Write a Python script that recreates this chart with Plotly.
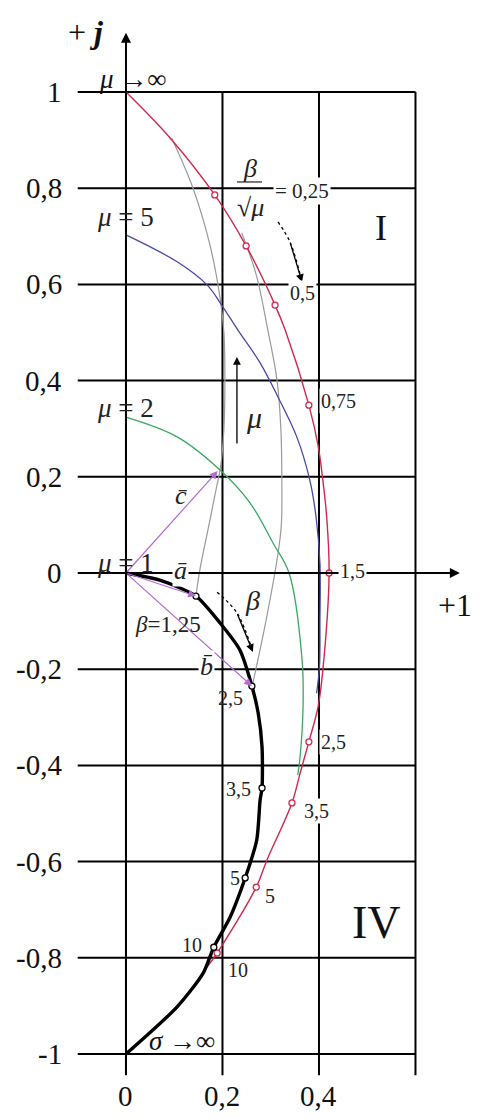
import plotly.graph_objects as go

# ---- data (complex plane: x = Re, y = Im) ----
GRID_X = [0, 0.2, 0.4, 0.6]
GRID_Y = [1, 0.8, 0.6, 0.4, 0.2, 0, -0.2, -0.4, -0.6, -0.8, -1]
Y_TICK_TEXT = ["1", "0,8", "0,6", "0,4", "0,2", "0", "-0,2", "-0,4", "-0,6", "-0,8", "-1"]
X_TICKS = [0, 0.2, 0.4]
X_TICK_TEXT = ["0", "0,2", "0,4"]

# mu -> infinity (red)
red_x = [0, 0.091, 0.184, 0.249, 0.309, 0.33, 0.379, 0.398, 0.408, 0.416, 0.421,
         0.408, 0.398, 0.379, 0.361, 0.344, 0.292, 0.27, 0.189, 0.168]
red_y = [1, 0.905, 0.786, 0.68, 0.557, 0.505, 0.349, 0.266, 0.193, 0.116, 0.0,
         -0.202, -0.279, -0.351, -0.416, -0.478, -0.597, -0.653, -0.79, -0.819]
red_mark_x = [0.184, 0.249, 0.309, 0.379, 0.421, 0.379, 0.344, 0.27, 0.189]
red_mark_y = [0.786, 0.68, 0.557, 0.349, 0.0, -0.351, -0.478, -0.653, -0.79]

# mu = 5 (blue)
blue_x = [0, 0.106, 0.168, 0.201, 0.232, 0.278, 0.315, 0.354, 0.381, 0.394, 0.402, 0.402, 0.401, 0.395]
blue_y = [0.703, 0.647, 0.599, 0.553, 0.505, 0.437, 0.366, 0.283, 0.193, 0.116, 0.02, -0.1, -0.195, -0.25]

# mu = 2 (green)
green_x = [0, 0.106, 0.195, 0.257, 0.305, 0.338, 0.365, 0.367, 0.361, 0.356]
green_y = [0.324, 0.283, 0.214, 0.146, 0.062, 0.0, -0.181, -0.279, -0.38, -0.42]

# mu = 1 (thick black)
black_x = [0, 0.07, 0.145, 0.195, 0.236, 0.261, 0.274, 0.282, 0.282, 0.278, 0.271,
           0.247, 0.216, 0.182, 0.16, 0.106, 0]
black_y = [0, -0.015, -0.048, -0.104, -0.16, -0.235, -0.291, -0.362, -0.447, -0.472, -0.555,
           -0.634, -0.715, -0.778, -0.832, -0.902, -1]
black_mark_x = [0.145, 0.261, 0.282, 0.247, 0.182]
black_mark_y = [-0.048, -0.235, -0.447, -0.634, -0.778]

# beta = const (gray)
gray1_x = [0.095, 0.139, 0.174, 0.195, 0.203, 0.205, 0.203, 0.196, 0.188, 0.17, 0.153, 0.145]
gray1_y = [0.904, 0.8, 0.682, 0.572, 0.5, 0.4, 0.3, 0.22, 0.18, 0.09, 0.006, -0.048]
gray2_x = [0.24, 0.27, 0.294, 0.313, 0.321, 0.323, 0.322, 0.315, 0.29, 0.263]
gray2_y = [0.707, 0.62, 0.505, 0.401, 0.3, 0.2, 0.1, 0.04, -0.1, -0.229]

# vectors a, b, c from the origin
vec_x = [0.145, 0.261, 0.19]
vec_y = [-0.048, -0.235, 0.212]

# dotted curved arrows
beta_arrow_x = [0.189, 0.23, 0.263]
beta_arrow_y = [-0.04, -0.083, -0.164]
ratio_arrow_x = [0.315, 0.34, 0.365]
ratio_arrow_y = [0.73, 0.688, 0.605]

RED = "#d0284e"
BLUE = "#4848a8"
GREEN = "#3aa862"
GRAY = "#9a9a9a"
PURPLE = "#b46ad2"
SERIF = "Liberation Serif, Times New Roman, serif"

fig = go.Figure()

# grid
for gx in GRID_X:
    fig.add_shape(type="line", x0=gx, x1=gx, y0=-1.044, y1=1, xref="x", yref="y",
                  line=dict(color="black", width=2), layer="below")
for gy in GRID_Y:
    fig.add_shape(type="line", x0=-0.1, x1=0.6, y0=gy, y1=gy, xref="x", yref="y",
                  line=dict(color="black", width=2), layer="below")

# curves
fig.add_trace(go.Scatter(x=gray1_x, y=gray1_y, mode="lines", line=dict(color=GRAY, width=1.2, shape="spline")))
fig.add_trace(go.Scatter(x=gray2_x, y=gray2_y, mode="lines", line=dict(color=GRAY, width=1.2, shape="spline")))
fig.add_trace(go.Scatter(x=green_x, y=green_y, mode="lines", line=dict(color=GREEN, width=1.3, shape="spline")))
fig.add_trace(go.Scatter(x=blue_x, y=blue_y, mode="lines", line=dict(color=BLUE, width=1.3, shape="spline")))
fig.add_trace(go.Scatter(x=red_x, y=red_y, mode="lines", line=dict(color=RED, width=1.4, shape="spline")))
fig.add_trace(go.Scatter(x=black_x, y=black_y, mode="lines",
                         line=dict(color="black", width=3.4, shape="spline", smoothing=0.7)))
fig.add_trace(go.Scatter(x=beta_arrow_x, y=beta_arrow_y, mode="lines",
                         line=dict(color="black", width=1.3, dash="dot", shape="spline")))
fig.add_trace(go.Scatter(x=ratio_arrow_x, y=ratio_arrow_y, mode="lines",
                         line=dict(color="black", width=1.3, dash="dot", shape="spline")))
fig.add_trace(go.Scatter(x=red_mark_x, y=red_mark_y, mode="markers",
                         marker=dict(size=6, color="white", line=dict(color=RED, width=1.3))))
fig.add_trace(go.Scatter(x=black_mark_x, y=black_mark_y, mode="markers",
                         marker=dict(size=6, color="white", line=dict(color="black", width=1.3))))

anns = []


def arrow(x, y, ax, ay, color="black", width=2, head=2, size=1):
    anns.append(dict(x=x, y=y, ax=ax, ay=ay, xref="x", yref="y", axref="x", ayref="y",
                     text="", showarrow=True, arrowhead=head, arrowsize=size,
                     arrowwidth=width, arrowcolor=color))


# axes with arrows
arrow(0, 1.123, 0, -1.044)
arrow(0.692, 0, -0.1, 0)
# vectors
for vx, vy in zip(vec_x, vec_y):
    arrow(vx, vy, 0, 0, color=PURPLE, width=1.2, head=2, size=1.3)
# mu arrow
arrow(0.23, 0.449, 0.23, 0.266, width=1.3, head=2, size=1.2)
# dotted arrow heads
arrow(beta_arrow_x[-1], beta_arrow_y[-1], beta_arrow_x[-2], beta_arrow_y[-2], width=1.3, head=2, size=1.2)
arrow(ratio_arrow_x[-1], ratio_arrow_y[-1], ratio_arrow_x[-2], ratio_arrow_y[-2], width=1.3, head=2, size=1.2)


def label(x, y, text, size=20, color="#222", xanchor="center", bg=None):
    d = dict(x=x, y=y, xref="x", yref="y", text=text, showarrow=False, xanchor=xanchor,
             yanchor="middle", font=dict(family=SERIF, size=size, color=color))
    if bg:
        d["bgcolor"] = bg
    anns.append(d)


for gy, t in zip(GRID_Y, Y_TICK_TEXT):
    label(-0.128, gy, t, size=29, color="#111", xanchor="right")
for gx, t in zip(X_TICKS, X_TICK_TEXT):
    label(gx, -1.087, t, size=29, color="#111")

label(-0.083, 1.125, "+ <b><i>j</i></b>", size=32, color="#111")
label(0.014, 1.027, "<i>μ</i> →∞", size=27, color="#111")
label(0.682, -0.067, "+1", size=32, color="#111")
label(0.528, 0.717, "I", size=36, color="#111")
label(0.52, -0.726, "IV", size=46, color="#111")
label(0.0, 0.74, "<i>μ</i> = 5", size=27)
label(0.0, 0.343, "<i>μ</i> = 2", size=27)
label(-0.002, 0.021, "<i>μ</i> = 1", size=27)
label(0.256, 0.842, "<i>β</i>", size=26)
label(0.258, 0.76, "√<i>μ</i>", size=26)
fig.add_shape(type="line", x0=0.23, x1=0.282, y0=0.813, y1=0.813, xref="x", yref="y",
              line=dict(color="#222", width=1.2))
label(0.305, 0.794, "= 0,25", size=21, xanchor="left", bg="white")
label(0.365, 0.582, "0,5", size=20, bg="white")
label(0.441, 0.358, "0,75", size=20, bg="white")
label(0.47, 0.004, "1,5", size=20, bg="white")
label(0.216, -0.26, "2,5", size=20)
label(0.431, -0.351, "2,5", size=20, bg="white")
label(0.234, -0.449, "3,5", size=20)
label(0.394, -0.495, "3,5", size=20, bg="white")
label(0.226, -0.634, "5", size=20)
label(0.298, -0.672, "5", size=20)
label(0.137, -0.773, "10", size=20)
label(0.232, -0.825, "10", size=20)
label(0.116, -0.972, "<i>σ</i> →∞", size=27, color="#111")
label(0.114, 0.006, "<i>a\u0304</i>", size=26, bg="white")
label(0.087, -0.106, "<i>β</i>=1,25", size=23)
label(0.263, -0.058, "<i>β</i>", size=28)
label(0.166, -0.195, "<i>b\u0304</i>", size=26, bg="white")
label(0.114, 0.162, "<i>c\u0304</i>", size=26)
label(0.265, 0.324, "<i>μ</i>", size=30)

fig.update_layout(
    width=481,
    height=1120,
    margin=dict(l=0, r=0, t=0, b=0),
    paper_bgcolor="white",
    plot_bgcolor="white",
    showlegend=False,
    xaxis=dict(range=[-0.2611, 0.7358], visible=False, fixedrange=True),
    yaxis=dict(range=[-1.1372, 1.1913], visible=False, fixedrange=True),
    annotations=anns,
)

fig.write_html("out.html", config={"displayModeBar": False},
               post_script="document.body.style.margin='0';")
